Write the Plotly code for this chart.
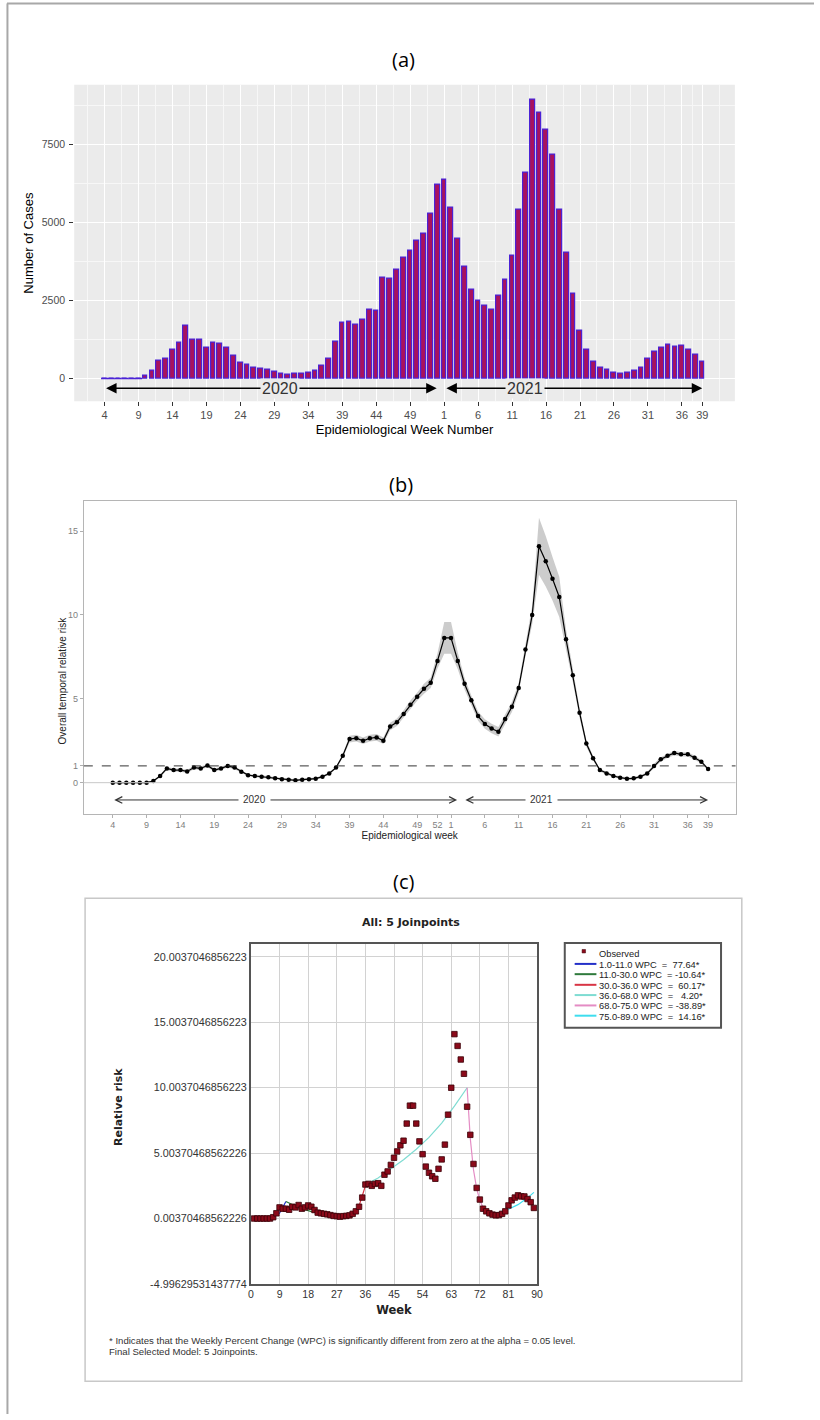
import plotly.graph_objects as go

W, H = 820, 1420


def px(x):
    return x / W


def py(y):
    return 1 - y / H


# ---------------- data ----------------
weeks_2020 = list(range(4, 54))
weeks_2021 = list(range(1, 40))
year_week = [(2020, w) for w in weeks_2020] + [(2021, w) for w in weeks_2021]
pos = list(range(len(year_week)))

cases = [0, 0, 0, 0, 0, 0, 75, 245, 564, 628, 926, 1138, 1692, 1234, 1255, 979,
         1160, 1117, 979, 745, 521, 447, 351, 298, 266, 202, 138, 128, 138, 149,
         192, 255, 404, 628, 1170, 1798, 1830, 1724, 1883, 2213, 2181, 3245, 3213,
         3479, 3883, 4107, 4405, 4628, 5288, 6224,
         6383, 5490, 4490, 3586, 2841, 2479, 2330, 2192, 2649, 3160, 3947, 5415,
         6596, 8937, 8512, 7969, 7160, 5415, 4043, 2702, 1521, 926, 532, 351, 266,
         181, 149, 181, 234, 340, 638, 851, 989, 1085, 1021, 1043, 936, 777, 532]

rr = [0, 0, 0, 0, 0, 0, 0.1, 0.4, 0.85, 0.75, 0.75, 0.67, 0.9, 0.85, 1.03, 0.75,
      0.85, 1.0, 0.9, 0.65, 0.45, 0.4, 0.36, 0.32, 0.26, 0.2, 0.18, 0.14, 0.18, 0.2,
      0.24, 0.36, 0.55, 0.9, 1.6, 2.6, 2.65, 2.5, 2.65, 2.7, 2.5, 3.35, 3.6, 4.1,
      4.65, 5.13, 5.6, 5.95, 7.26, 8.63,
      8.63, 7.26, 5.9, 4.92, 3.97, 3.5, 3.23, 3.04, 3.8, 4.52, 5.65, 7.94, 10.0,
      14.1, 13.2, 12.16, 11.07, 8.55, 6.4, 4.17, 2.34, 1.45, 0.75, 0.55, 0.4, 0.3,
      0.24, 0.26, 0.36, 0.55, 1.0, 1.39, 1.6, 1.77, 1.69, 1.69, 1.49, 1.25, 0.81]

rr_half = [0.04, 0.04, 0.04, 0.04, 0.04, 0.04, 0.04, 0.08, 0.1, 0.1, 0.1, 0.1, 0.1,
           0.1, 0.1, 0.1, 0.1, 0.1, 0.1, 0.07, 0.07, 0.07, 0.07, 0.07, 0.07, 0.07,
           0.07, 0.07, 0.07, 0.07, 0.07, 0.07, 0.07, 0.07, 0.12, 0.2, 0.2, 0.2, 0.2,
           0.2, 0.2, 0.22, 0.22, 0.22, 0.25, 0.25, 0.3, 0.3, 0.45, 0.95,
           0.95, 0.5, 0.35, 0.28, 0.28, 0.28, 0.28, 0.28, 0.3, 0.3, 0.3, 0.4, 0.55,
           1.7, 1.5, 1.3, 1.2, 0.6, 0.4, 0.3, 0.2, 0.12, 0.08, 0.08, 0.08, 0.08,
           0.08, 0.08, 0.08, 0.08, 0.13, 0.13, 0.13, 0.13, 0.13, 0.13, 0.13, 0.1, 0.08]

ticks_a = [(2020, w) for w in [4, 9, 14, 19, 24, 29, 34, 39, 44, 49]] + \
          [(2021, w) for w in [1, 6, 11, 16, 21, 26, 31, 36, 39]]
ticks_b = [(2020, w) for w in [4, 9, 14, 19, 24, 29, 34, 39, 44, 49, 52]] + \
          [(2021, w) for w in [1, 6, 11, 16, 21, 26, 31, 36, 39]]

# joinpoint (panel c)
obs_week = [p + 1 for p in pos]
seg_labels = ["1.0-11.0 WPC\u00a0 =\u00a0 77.64*", "11.0-30.0 WPC\u00a0 = -10.64*",
              "30.0-36.0 WPC\u00a0 =\u00a0 60.17*", "36.0-68.0 WPC\u00a0 =\u00a0\u00a0 4.20*",
              "68.0-75.0 WPC\u00a0 = -38.89*", "75.0-89.0 WPC\u00a0 =\u00a0 14.16*"]
seg_colors = ["#2430C8", "#2F7A3C", "#D83545", "#7EDCD2", "#E48CC4", "#3EDDEE"]
seg_x = [[1, 3, 5, 7, 9, 11], [11, 15, 19, 23, 27, 30], [30, 32, 34, 36],
         [36, 40, 44, 48, 52, 56, 60, 64, 68], [68, 69, 70, 71, 72, 73, 74, 75],
         [75, 78, 81, 84, 87, 89]]
seg_y = [[0.004, 0.013, 0.04, 0.13, 0.41, 1.3], [1.3, 0.83, 0.53, 0.34, 0.21, 0.15],
         [0.15, 0.38, 0.97, 2.5], [2.6, 3.1, 3.8, 4.5, 5.3, 6.2, 7.3, 8.6, 10.0],
         [10.0, 6.1, 3.73, 2.28, 1.4, 0.85, 0.52, 0.32],
         [0.32, 0.48, 0.71, 1.06, 1.58, 2.0]]
c_yvals = [-4.99629531437774, 0.00370468562226, 5.00370468562226,
           10.0037046856223, 15.0037046856223, 20.0037046856223]
c_ytext = ["-4.99629531437774", "0.00370468562226", "5.00370468562226",
           "10.0037046856223", "15.0037046856223", "20.0037046856223"]
c_xticks = [0, 9, 18, 27, 36, 45, 54, 63, 72, 81, 90]


def to_pos(yw):
    return year_week.index(yw)


tpos_a = [to_pos(t) for t in ticks_a]
tpos_b = [to_pos(t) for t in ticks_b]
minor_a = [tpos_a[0] - 2.5] + [(a + b) / 2 for a, b in zip(tpos_a[:-1], tpos_a[1:])] + [tpos_a[-1] + 2.5]

ARIAL = "Liberation Sans, Arial, sans-serif"
TITLEF = "Open Sans, sans-serif"
VERD = "DejaVu Sans, Verdana, sans-serif"

fig = go.Figure()

# ---------------- panel a ----------------
fig.add_trace(go.Bar(x=pos, y=cases, width=0.7, xaxis="x", yaxis="y", showlegend=False,
                     marker=dict(color="#A8125E", line=dict(color="#4A22D6", width=1.2))))
zero_pos = [p for p, c in zip(pos, cases) if c == 0]
fig.add_trace(go.Scatter(x=zero_pos, y=[0] * len(zero_pos), mode="markers", xaxis="x", yaxis="y",
                         showlegend=False,
                         marker=dict(symbol="line-ew", size=5, line=dict(color="#4A22D6", width=1.5))))

# ---------------- panel b ----------------
lower = [v - h for v, h in zip(rr, rr_half)]
upper = [v + h for v, h in zip(rr, rr_half)]
fig.add_trace(go.Scatter(x=pos, y=lower, mode="lines", line=dict(width=0), xaxis="x2", yaxis="y2",
                         showlegend=False, hoverinfo="skip"))
fig.add_trace(go.Scatter(x=pos, y=upper, mode="lines", line=dict(width=0), fill="tonexty",
                         fillcolor="rgba(170,170,170,0.6)", xaxis="x2", yaxis="y2",
                         showlegend=False, hoverinfo="skip"))
fig.add_trace(go.Scatter(x=pos, y=rr, mode="lines+markers", xaxis="x2", yaxis="y2", showlegend=False,
                         line=dict(color="black", width=1.2), marker=dict(color="black", size=4.5)))

# ---------------- panel c ----------------
for sx, sy, col in zip(seg_x, seg_y, seg_colors):
    fig.add_trace(go.Scatter(x=sx, y=sy, mode="lines", line=dict(color=col, width=1.2),
                             xaxis="x3", yaxis="y3", showlegend=False))
fig.add_trace(go.Scatter(x=obs_week, y=rr, mode="markers", xaxis="x3", yaxis="y3", showlegend=False,
                         marker=dict(symbol="square", size=5.5, color="#8B0A1A",
                                     line=dict(color="#3A0008", width=0.8))))

shapes = []
annotations = []

# page border
shapes.append(dict(type="line", xref="paper", yref="paper", x0=px(4), x1=px(820), y0=py(3.5), y1=py(3.5),
                   line=dict(color="#A8A8A8", width=2)))
shapes.append(dict(type="line", xref="paper", yref="paper", x0=px(4.5), x1=px(4.5), y0=py(3.5), y1=py(1420),
                   line=dict(color="#A8A8A8", width=2)))

# panel a background
shapes.append(dict(type="rect", xref="x domain", yref="y domain", x0=0, x1=1, y0=0, y1=1,
                   fillcolor="#EBEBEB", line=dict(width=0), layer="below"))

# panel b reference lines
shapes.append(dict(type="line", xref="x2 domain", yref="y2", x0=0, x1=1, y0=0, y1=0,
                   line=dict(color="#C8C8C8", width=1)))
shapes.append(dict(type="line", xref="x2 domain", yref="y2", x0=0, x1=1, y0=1, y1=1,
                   line=dict(color="#333333", width=1, dash="dash")))

# panel c outer frame
shapes.append(dict(type="rect", xref="paper", yref="paper", x0=px(83), x1=px(747), y0=py(1387), y1=py(902),
                   line=dict(color="#C8C8C8", width=1.5)))

# panel titles
for t, xx, yy in [("(a)", 405, 60), ("(b)", 402, 487), ("(c)", 405, 885)]:
    annotations.append(dict(text=t, xref="paper", yref="paper", x=px(xx), y=py(yy), showarrow=False,
                            xanchor="center", yanchor="middle", font=dict(family=TITLEF, size=20, color="black")))

# panel a year arrows
arrow_y_a = -319
annotations.append(dict(x=48.9, y=arrow_y_a, ax=0, ay=arrow_y_a, xref="x", yref="y", axref="x", ayref="y",
                        text="", showarrow=True, arrowhead=2, arrowside="end+start", arrowsize=1.4,
                        arrowwidth=1.5, arrowcolor="black"))
annotations.append(dict(x=88, y=arrow_y_a, ax=50.1, ay=arrow_y_a, xref="x", yref="y", axref="x", ayref="y",
                        text="", showarrow=True, arrowhead=2, arrowside="end+start", arrowsize=1.4,
                        arrowwidth=1.5, arrowcolor="black"))
annotations.append(dict(x=25.8, y=arrow_y_a, xref="x", yref="y", text="2020", showarrow=False,
                        bgcolor="#EBEBEB", borderpad=1, font=dict(family=ARIAL, size=16, color="#333333")))
annotations.append(dict(x=61.9, y=arrow_y_a, xref="x", yref="y", text="2021", showarrow=False,
                        bgcolor="#EBEBEB", borderpad=1, font=dict(family=ARIAL, size=16, color="#333333")))

# panel a y title
annotations.append(dict(text="Number of Cases", xref="paper", yref="paper", x=px(26), y=py(244),
                        showarrow=False, textangle=-90, xanchor="center", yanchor="middle",
                        font=dict(family=ARIAL, size=13, color="black")))

# panel b year arrows
arrow_y_b = -1.03
annotations.append(dict(x=50.9, y=arrow_y_b, ax=0, ay=arrow_y_b, xref="x2", yref="y2", axref="x2", ayref="y2",
                        text="", showarrow=True, arrowhead=5, arrowside="end+start", arrowsize=1.3,
                        arrowwidth=1, arrowcolor="#333333"))
annotations.append(dict(x=88, y=arrow_y_b, ax=51.9, ay=arrow_y_b, xref="x2", yref="y2", axref="x2", ayref="y2",
                        text="", showarrow=True, arrowhead=5, arrowside="end+start", arrowsize=1.3,
                        arrowwidth=1, arrowcolor="#333333"))
annotations.append(dict(x=21, y=arrow_y_b, xref="x2", yref="y2", text="2020", showarrow=False,
                        bgcolor="white", borderpad=4, font=dict(family=ARIAL, size=10, color="#333333")))
annotations.append(dict(x=63.4, y=arrow_y_b, xref="x2", yref="y2", text="2021", showarrow=False,
                        bgcolor="white", borderpad=4, font=dict(family=ARIAL, size=10, color="#333333")))
annotations.append(dict(text="Overall temporal relative risk", xref="paper", yref="paper", x=px(60), y=py(683),
                        showarrow=False, textangle=-90, xanchor="center", yanchor="middle",
                        font=dict(family=ARIAL, size=10, color="#222222")))

# panel c titles
annotations.append(dict(text="<b>All: 5 Joinpoints</b>", xref="paper", yref="paper", x=px(413), y=py(926),
                        showarrow=False, xanchor="center", yanchor="middle",
                        font=dict(family=VERD, size=11, color="#222222")))
annotations.append(dict(text="<b>Relative risk</b>", xref="paper", yref="paper", x=px(117), y=py(1112),
                        showarrow=False, textangle=-90, xanchor="center", yanchor="middle",
                        font=dict(family=VERD, size=11, color="#222222")))
annotations.append(dict(text="* Indicates that the Weekly Percent Change (WPC) is significantly different from zero at the alpha = 0.05 level.",
                        xref="paper", yref="paper", x=px(105), y=py(1346), showarrow=False,
                        xanchor="left", yanchor="middle", font=dict(family=ARIAL, size=9.6, color="#333333")))
annotations.append(dict(text="Final Selected Model: 5 Joinpoints.",
                        xref="paper", yref="paper", x=px(105), y=py(1357), showarrow=False,
                        xanchor="left", yanchor="middle", font=dict(family=ARIAL, size=9.6, color="#333333")))

# panel c manual legend
shapes.append(dict(type="rect", xref="paper", yref="paper", x0=px(568), x1=px(726), y0=py(1032), y1=py(947),
                   line=dict(color="#555555", width=2), fillcolor="white"))
legend_rows = [958, 969, 979.3, 990, 1000.3, 1010.7, 1021]
shapes.append(dict(type="rect", xref="paper", yref="paper", x0=px(585.5), x1=px(589), y0=py(957), y1=py(953.5),
                   line=dict(color="#3A0008", width=0.5), fillcolor="#8B0A1A"))
annotations.append(dict(text="Observed", xref="paper", yref="paper", x=px(601), y=py(legend_rows[0]),
                        showarrow=False, xanchor="left", yanchor="middle",
                        font=dict(family=ARIAL, size=9.3, color="#222222")))
for lab, col, yy in zip(seg_labels, seg_colors, legend_rows[1:]):
    shapes.append(dict(type="line", xref="paper", yref="paper", x0=px(578), x1=px(600), y0=py(yy - 1), y1=py(yy - 1),
                       line=dict(color=col, width=2)))
    annotations.append(dict(text=lab, xref="paper", yref="paper", x=px(601), y=py(yy), showarrow=False,
                            xanchor="left", yanchor="middle", font=dict(family=ARIAL, size=9.3, color="#222222")))

fig.update_layout(
    width=W, height=H, autosize=False,
    margin=dict(l=0, r=0, t=0, b=0),
    paper_bgcolor="white", plot_bgcolor="rgba(0,0,0,0)",
    showlegend=False, bargap=0,
    shapes=shapes, annotations=annotations,
    xaxis=dict(domain=[px(72), px(740)], range=[-4.47, 92.8], anchor="y",
               tickmode="array", tickvals=tpos_a, ticktext=[str(w) for _, w in ticks_a],
               ticks="outside", ticklen=4, tickcolor="#333333", tickwidth=1,
               tickfont=dict(family=ARIAL, size=11, color="#4D4D4D"),
               showgrid=True, gridcolor="white", gridwidth=1.1, zeroline=False, showline=False,
               minor=dict(tickmode="array", tickvals=minor_a, showgrid=True, gridcolor="#F7F7F7", gridwidth=0.6, ticks=""),
               title=dict(text="Epidemiological Week Number", standoff=4,
                          font=dict(family=ARIAL, size=13, color="black"))),
    yaxis=dict(domain=[py(403), py(85)], range=[-734, 9419], anchor="x",
               tickmode="array", tickvals=[0, 2500, 5000, 7500],
               ticks="outside", ticklen=4, tickcolor="#333333", tickwidth=1, ticklabelstandoff=2,
               tickfont=dict(family=ARIAL, size=10.5, color="#4D4D4D"),
               showgrid=True, gridcolor="white", gridwidth=1.1, zeroline=False, showline=False,
               minor=dict(tickmode="array", tickvals=[1250, 3750, 6250, 8750], showgrid=True,
                          gridcolor="#F7F7F7", gridwidth=0.6, ticks="")),
    xaxis2=dict(domain=[px(81.7), px(740.7)], range=[-4.28, 92.06], anchor="y2",
                tickmode="array", tickvals=tpos_b, ticktext=[str(w) for _, w in ticks_b],
                ticks="outside", ticklen=3, tickcolor="#B0B0B0",
                tickfont=dict(family=ARIAL, size=9, color="#808080"),
                showgrid=False, zeroline=False, showline=True, mirror=True, linecolor="#B5B5B5", linewidth=1,
                title=dict(text="Epidemiological week", standoff=2,
                           font=dict(family=ARIAL, size=10, color="#222222"))),
    yaxis2=dict(domain=[py(817), py(503)], range=[-1.84, 16.8], anchor="x2",
                tickmode="array", tickvals=[0, 1, 5, 10, 15],
                ticks="outside", ticklen=3, tickcolor="#B0B0B0",
                tickfont=dict(family=ARIAL, size=9, color="#808080"),
                showgrid=False, zeroline=False, showline=True, mirror=True, linecolor="#B5B5B5", linewidth=1),
    xaxis3=dict(domain=[px(250.7), px(540)], range=[0, 90], anchor="y3",
                tickmode="array", tickvals=c_xticks, ticks="",
                tickfont=dict(family=ARIAL, size=10.5, color="#333333"),
                showgrid=True, gridcolor="#D2D2D2", gridwidth=1, zeroline=False,
                showline=True, mirror=True, linecolor="#555555", linewidth=2,
                title=dict(text="<b>Week</b>", standoff=6, font=dict(family=VERD, size=11.5, color="#222222"))),
    yaxis3=dict(domain=[py(1289.3), py(948.3)], range=[-4.99629531437774, 20.97], anchor="x3",
                tickmode="array", tickvals=c_yvals, ticktext=c_ytext, ticks="",
                tickfont=dict(family=ARIAL, size=10.8, color="#333333"),
                showgrid=True, gridcolor="#D2D2D2", gridwidth=1, zeroline=False,
                showline=True, mirror=True, linecolor="#555555", linewidth=2),
)

fig.write_html("out.html", config={"displayModeBar": False},
               post_script="document.body.style.margin='0';")
